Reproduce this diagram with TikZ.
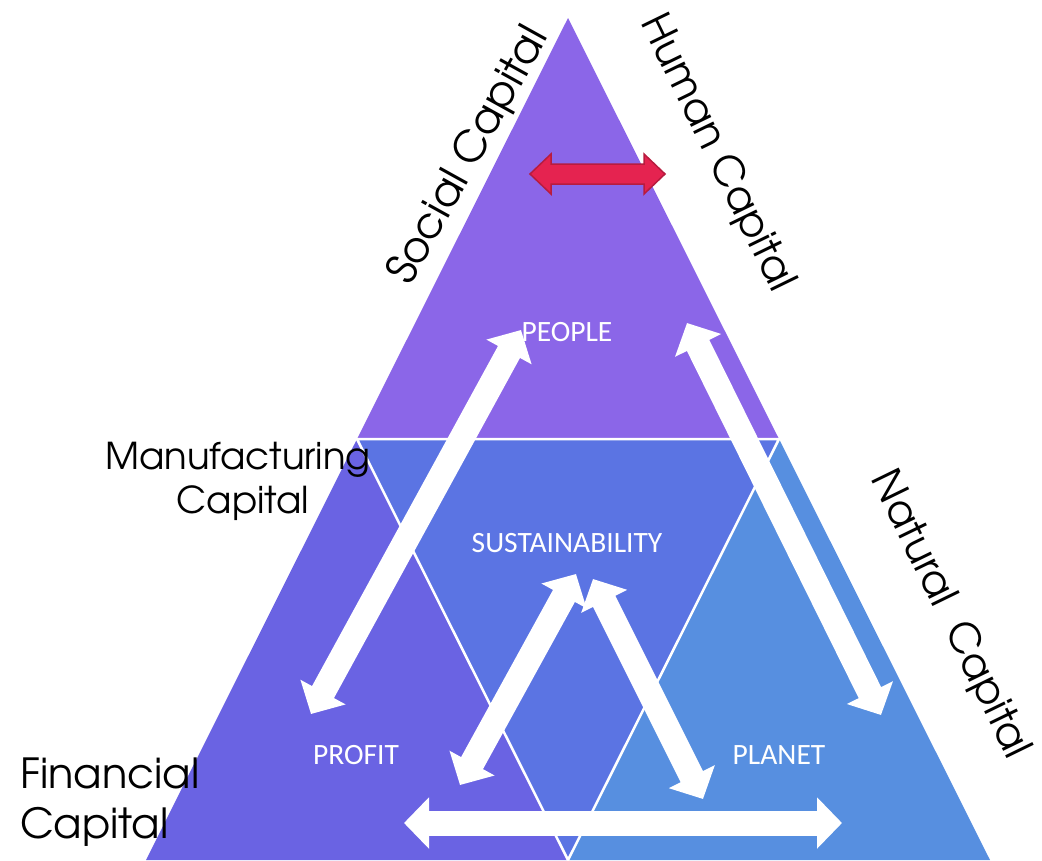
\documentclass[tikz,border=0pt]{standalone}
\usepackage{fontspec}
\usetikzlibrary{arrows.meta}
\newfontfamily\labelfont{Carlito}
\newfontfamily\gothicfont{texgyreadventor-regular.otf}

\definecolor{peoplefill}{HTML}{8B66E8}
\definecolor{profitfill}{HTML}{6A63E3}
\definecolor{corefill}{HTML}{5B74E3}
\definecolor{planetfill}{HTML}{578FE0}
\definecolor{linkred}{HTML}{E52350}
\definecolor{linkredrim}{HTML}{B71C3F}

\tikzset{
  seam/.style={draw=white, line width=2.5pt, line join=miter},
  tag/.style={text=white, inner sep=0pt, font=\labelfont\fontsize{29.5}{30}\selectfont},
  sidecap/.style={text=black, inner sep=0pt, font=\gothicfont\fontsize{41}{48}\selectfont},
  manucap/.style={text=black, inner sep=0pt, font=\gothicfont\fontsize{37}{44}\selectfont},
  fincap/.style={text=black, inner sep=0pt, font=\gothicfont\fontsize{41.5}{50}\selectfont},
  whitetip/.tip={Triangle[length=25pt 0 0, width=50pt 0 0]},
  warrow/.style={draw=white, line width=25pt, whitetip-whitetip}
}

\begin{document}
\begin{tikzpicture}[x=1pt, y=-1pt]
\useasboundingbox (0,0) rectangle (1042,860);

% corners of the big triangle and the midpoints of its sides
\coordinate (apex) at (568,18);
\coordinate (bl) at (146,860);
\coordinate (br) at (990,860);
\coordinate (ml) at (357,439);
\coordinate (mr) at (779,439);
\coordinate (mb) at (568,860);

% four sub-triangles
\fill[peoplefill] (apex) -- (mr) -- (ml) -- cycle;
\fill[profitfill] (ml) -- (mb) -- (bl) -- cycle;
\fill[planetfill] (mr) -- (br) -- (mb) -- cycle;
\fill[corefill] (ml) -- (mr) -- (mb) -- cycle;
\draw[seam] (ml) -- (mr) -- (mb) -- cycle;

% section labels
\node[tag] (people) at (567,332) {PEOPLE};
\node[tag] (sust) at (567,543) {SUSTAINABILITY};
\node[tag] (profit) at (356,755) {PROFIT};
\node[tag] (planet) at (779,755) {PLANET};

% ends of the white two-way arrows
\coordinate (pl) at (521,330);
\coordinate (fu) at (311,714);
\coordinate (pr) at (687,323);
\coordinate (nu) at (881,715);
\coordinate (sl) at (576,574);
\coordinate (fl) at (460,785);
\coordinate (sr) at (593,579);
\coordinate (nl) at (703,799);
\coordinate (fb) at (404,823);
\coordinate (nb) at (842,823);

\draw[warrow] (pl) -- (fu);
\draw[warrow] (pr) -- (nu);
\draw[warrow] (sl) -- (fl);
\draw[warrow] (sr) -- (nl);
\draw[warrow] (fb) -- (nb);

% red two-way arrow near the apex
\coordinate (rc) at (597.5,174);
\filldraw[fill=linkred, draw=linkredrim, line width=1.5pt, line join=miter]
  ([xshift=-67.5pt]rc) -- ++(21,-20) -- ++(0,10) -- ++(93,0) -- ++(0,-10)
  -- ++(21,20) -- ++(-21,20) -- ++(0,-10) -- ++(-93,0) -- ++(0,10) -- cycle;

% capital names around the triangle
\node[sidecap, font=\gothicfont\fontsize{42.5}{48}\selectfont, rotate=61] (social) at (469,156) {Social Capital};
\node[sidecap, rotate=-64] (human) at (717,153) {Human Capital};
\node[sidecap, rotate=-64] (natural) at (950,615) {Natural\ \ Capital};

\node[manucap, anchor=base] (manu1) at (238,469) {Manufacturing};
\node[manucap, anchor=base] (manu2) at (243,513) {Capital};

\node[fincap, anchor=base west] (fin1) at (20,788) {Financial};
\node[fincap, anchor=base west] (fin2) at (20,838) {Capital};
\end{tikzpicture}
\end{document}
